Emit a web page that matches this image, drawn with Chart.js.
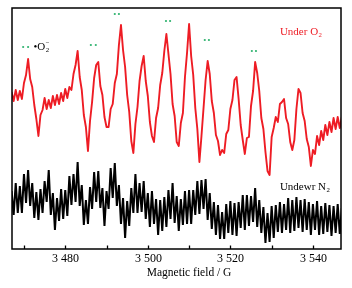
<!DOCTYPE html>
<html>
<head>
<meta charset="utf-8">
<script src="https://cdn.jsdelivr.net/npm/chart.js@4.4.1/dist/chart.umd.min.js"></script>
<style>
  html, body { margin: 0; padding: 0; background: #fff; }
  #wrap { width: 352px; height: 288px; }
</style>
</head>
<body>
<div id="wrap"><canvas id="epr" width="352" height="288"></canvas></div>
<script>
// field axis: one reading every 0.5 G starting at 3467 G
const fieldStart = 3467;
const fieldStep = 0.5;
const fieldMin = 3467.1;
const fieldMax = 3546.8;
const labelledFields = [3480, 3500, 3520, 3540];

// EPR signal under O2 (arbitrary units)
const underO2 = [
  157,148,159,149,158,150,166,174,190,170,
  162,144,130,113,134,139,151,140,149,141,
  153,144,154,145,156,148,160,151,162,159,
  175,184,198,172,159,134,122,98,128,147,
  171,184,187,163,154,132,122,122,140,145,
  166,175,204,224,199,182,154,137,108,96,
  125,142,168,183,193,168,153,127,113,107,
  131,141,164,176,198,215,195,175,145,133,
  107,103,126,136,172,196,225,193,174,141,
  120,87,113,141,169,188,175,148,136,114,
  108,94,99,96,115,119,140,149,169,172,
  150,124,109,95,111,112,143,158,187,176,
  158,131,120,97,78,74,112,121,132,127,
  145,147,150,131,125,107,99,109,140,160,
  156,136,128,110,102,83,99,95,113,104,
  118,109,124,114,127,117,131,120,132,121,132
];

// EPR signal under N2
const underN2 = [
  58,34,66,36,63,36,75,46,79,43,
  66,31,57,29,60,36,68,47,79,34,
  56,19,51,28,60,30,59,33,73,44,
  75,47,87,43,64,24,49,25,62,40,
  77,47,78,41,61,23,58,40,81,51,
  86,43,64,25,51,11,48,23,61,36,
  75,36,66,37,68,30,56,22,58,25,
  50,14,49,18,52,22,59,30,66,26,
  53,18,50,24,58,25,59,25,59,34,
  68,35,69,40,70,29,56,20,47,14,
  44,10,37,10,45,16,48,14,46,13,
  47,21,54,19,54,23,53,27,61,22,
  49,16,42,6,36,7,43,11,44,17,
  47,16,45,19,51,16,49,18,52,21,
  49,17,50,19,47,14,45,19,48,14,
  43,15,46,17,44,13,43,16,45,15,41
];

// green double-dot marks over the superoxide lines
const markFields = [3469.8, 3471.0, 3486.2, 3487.4, 3492.0, 3493.0, 3504.4, 3505.4, 3513.8, 3514.8, 3525.2, 3526.2];
const markLevels = [202, 202, 204, 204, 235, 235, 228, 228, 209, 209, 198, 198];

const serif = '"Liberation Serif", "Times New Roman", serif';

function toPoints(values) {
  return values.map((v, i) => ({ x: fieldStart + i * fieldStep, y: v }));
}

function formatField(v) {
  const s = String(v);
  return s.slice(0, s.length - 3) + ' ' + s.slice(-3);
}

function drawLabel(ctx, px, py, main, sub, sup, color, size) {
  ctx.fillStyle = color;
  ctx.textAlign = 'left';
  ctx.textBaseline = 'middle';
  ctx.font = size + 'px ' + serif;
  ctx.fillText(main, px, py);
  const w = ctx.measureText(main).width;
  ctx.font = (size * 0.62) + 'px ' + serif;
  if (sub) ctx.fillText(sub, px + w + 0.5, py + size * 0.32);
  if (sup) ctx.fillText(sup, px + w + 0.5, py - size * 0.36);
}

const framePlugin = {
  id: 'frame',
  afterDraw(chart) {
    const { ctx, chartArea: a, scales: { x, y } } = chart;
    ctx.save();
    ctx.strokeStyle = '#000';
    ctx.lineWidth = 1.5;
    ctx.strokeRect(a.left, a.top, a.right - a.left, a.bottom - a.top);

    // inward tick marks and labels from the scale's own ticks
    ctx.lineWidth = 1.3;
    ctx.fillStyle = '#000';
    ctx.textAlign = 'center';
    ctx.textBaseline = 'middle';
    ctx.font = '12px ' + serif;
    x.ticks.forEach(t => {
      const px = Math.round(x.getPixelForValue(t.value)) + 0.5;
      ctx.beginPath();
      ctx.moveTo(px, a.bottom);
      ctx.lineTo(px, a.bottom - 3.5);
      ctx.stroke();
      if (labelledFields.includes(t.value)) {
        ctx.fillText(formatField(t.value), px, a.bottom + 10);
      }
    });

    drawLabel(ctx, x.getPixelForValue(3532), y.getPixelForValue(217), 'Under O', '2', null, '#ee1c24', 11);
    drawLabel(ctx, x.getPixelForValue(3532), y.getPixelForValue(62), 'Undewr N', '2', null, '#000', 11);
    drawLabel(ctx, x.getPixelForValue(3472.3), y.getPixelForValue(202), '\u2022O', '2', '\u2212', '#000', 11);

    ctx.fillStyle = '#000';
    ctx.textAlign = 'center';
    ctx.textBaseline = 'middle';
    ctx.font = '11.5px ' + serif;
    ctx.fillText('Magnetic field / G', x.getPixelForValue(3510), a.bottom + 24);
    ctx.restore();
  }
};

new Chart(document.getElementById('epr'), {
  type: 'line',
  data: {
    datasets: [
      {
        label: 'Under O2',
        data: toPoints(underO2),
        borderColor: '#ee1c24',
        borderWidth: 1.9,
        borderJoinStyle: 'round',
        pointRadius: 0,
        tension: 0,
        order: 1
      },
      {
        label: 'Undewr N2',
        data: toPoints(underN2),
        borderColor: '#000',
        borderWidth: 2,
        borderJoinStyle: 'miter',
        pointRadius: 0,
        tension: 0,
        order: 2
      },
      {
        type: 'scatter',
        label: 'marks',
        data: markFields.map((f, i) => ({ x: f, y: markLevels[i] })),
        showLine: false,
        pointRadius: 1.1,
        pointBorderWidth: 0,
        pointBackgroundColor: '#2fb36f',
        order: 0
      }
    ]
  },
  options: {
    responsive: false,
    animation: false,
    layout: { padding: { left: 12, right: 11, top: 8, bottom: 0 } },
    plugins: {
      legend: { display: false },
      tooltip: { enabled: false }
    },
    scales: {
      x: {
        type: 'linear',
        min: fieldMin,
        max: fieldMax,
        afterFit(scale) { scale.height = 39; },
        border: { display: false },
        grid: { display: false },
        ticks: {
          display: false,
          stepSize: 10,
          includeBounds: false,
          autoSkip: false
        }
      },
      y: {
        display: false,
        min: 0,
        max: 241
      }
    }
  },
  plugins: [framePlugin]
});
</script>
</body>
</html>
